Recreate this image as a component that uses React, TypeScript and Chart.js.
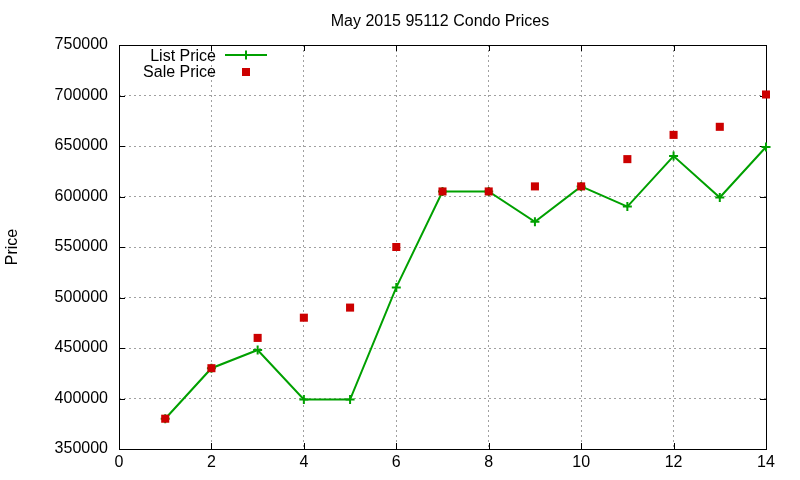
import React, { useEffect, useRef } from "react";
import { Chart, registerables } from "chart.js";

Chart.register(...registerables);

const months = [1, 2, 3, 4, 5, 6, 7, 8, 9, 10, 11, 12, 13, 14];
const listPrice = [380000, 430000, 448000, 399000, 399000, 510000, 605000, 605000, 575000, 610000, 590000, 640000, 599000, 649000];
const salePrice = [380000, 430000, 460000, 480000, 490000, 550000, 605000, 605000, 610000, 610000, 637000, 661000, 669000, 701000];
const titleText = "May 2015 95112 Condo Prices";
const yTitle = "Price";
const legendLabels = ["List Price", "Sale Price"];

const GREEN = "#00a000";
const RED = "#cc0000";
const FONT = "'Liberation Sans', Arial, sans-serif";

const overlay = {
  id: "gnuplotOverlay",
  beforeDatasetsDraw(chart: any) {
    const { ctx, chartArea: a, scales } = chart;
    ctx.save();
    ctx.strokeStyle = "#000";
    ctx.lineWidth = 1;
    ctx.setLineDash([]);
    ctx.strokeRect(Math.round(a.left) + 0.5, Math.round(a.top) + 0.5, Math.round(a.right - a.left), Math.round(a.bottom - a.top));
    const tl = 6;
    ctx.beginPath();
    scales.y.ticks.forEach((t: any) => {
      const y = Math.round(scales.y.getPixelForValue(t.value)) + 0.5;
      ctx.moveTo(a.left, y); ctx.lineTo(a.left + tl, y);
      ctx.moveTo(a.right, y); ctx.lineTo(a.right - tl, y);
    });
    scales.x.ticks.forEach((t: any) => {
      const x = Math.round(scales.x.getPixelForValue(t.value)) + 0.5;
      ctx.moveTo(x, a.bottom); ctx.lineTo(x, a.bottom - tl);
      ctx.moveTo(x, a.top); ctx.lineTo(x, a.top + tl);
    });
    ctx.stroke();
    ctx.restore();
  },
  afterDraw(chart: any) {
    const { ctx } = chart;
    ctx.save();
    ctx.fillStyle = "#000";
    ctx.font = `16px ${FONT}`;
    ctx.textAlign = "center";
    ctx.textBaseline = "middle";
    ctx.fillText(titleText, 440, 22);
    ctx.save();
    ctx.translate(13, 247);
    ctx.rotate(-Math.PI / 2);
    ctx.fillText(yTitle, 0, 0);
    ctx.restore();
    ctx.textAlign = "right";
    ctx.fillText(legendLabels[0], 216, 56.5);
    ctx.fillText(legendLabels[1], 216, 72.5);
    ctx.strokeStyle = GREEN;
    ctx.lineWidth = 2;
    ctx.beginPath();
    ctx.moveTo(225, 55); ctx.lineTo(267, 55);
    ctx.moveTo(246, 50.5); ctx.lineTo(246, 59.5);
    ctx.stroke();
    ctx.fillStyle = RED;
    ctx.fillRect(242, 68, 8, 8);
    ctx.restore();
  },
};

const plainNumber = (v: any) => String(v);

export default function App() {
  const ref = useRef<HTMLCanvasElement>(null);
  useEffect(() => {
    if (!ref.current) return;
    const chart = new Chart(ref.current, {
      type: "line",
      data: {
        datasets: [
          {
            label: legendLabels[1],
            data: months.map((m, i) => ({ x: m, y: salePrice[i] })),
            showLine: false,
            pointStyle: "rect",
            pointRadius: 5.7,
            pointBorderWidth: 0,
            pointBackgroundColor: RED,
            backgroundColor: RED,
            borderColor: RED,
            clip: false,
          },
          {
            label: legendLabels[0],
            data: months.map((m, i) => ({ x: m, y: listPrice[i] })),
            borderColor: GREEN,
            borderWidth: 2,
            pointStyle: "cross",
            pointRadius: 4.5,
            pointBorderWidth: 2,
            pointBorderColor: GREEN,
            tension: 0,
            clip: false,
          },
        ],
      },
      options: {
        animation: false,
        responsive: false,
        layout: { padding: { left: 0, top: 45, right: 34, bottom: 0 } },
        plugins: { legend: { display: false }, title: { display: false }, tooltip: { enabled: false } },
        scales: {
          x: {
            type: "linear",
            min: 0,
            max: 14,
            ticks: { stepSize: 2, color: "#000", font: { family: FONT, size: 16 }, padding: 4, maxRotation: 0, callback: plainNumber },
            grid: { color: "#a0a0a0", drawTicks: false, lineWidth: 1 },
            border: { display: false, dash: [2, 3] },
            afterFit: (s: any) => { s.height = 31; },
          },
          y: {
            type: "linear",
            min: 350000,
            max: 750000,
            ticks: { stepSize: 50000, color: "#000", font: { family: FONT, size: 16 }, padding: 11, callback: plainNumber },
            grid: { color: "#a0a0a0", drawTicks: false, lineWidth: 1 },
            border: { display: false, dash: [2, 3] },
            afterFit: (s: any) => { s.width = 119; },
          },
        },
      },
      plugins: [overlay],
    } as any);
    return () => chart.destroy();
  }, []);
  return (
    <div style={{ position: "absolute", left: 0, top: 0, width: 800, height: 480, background: "#fff" }}>
      <canvas ref={ref} width={800} height={480} style={{ display: "block" }} />
    </div>
  );
}
